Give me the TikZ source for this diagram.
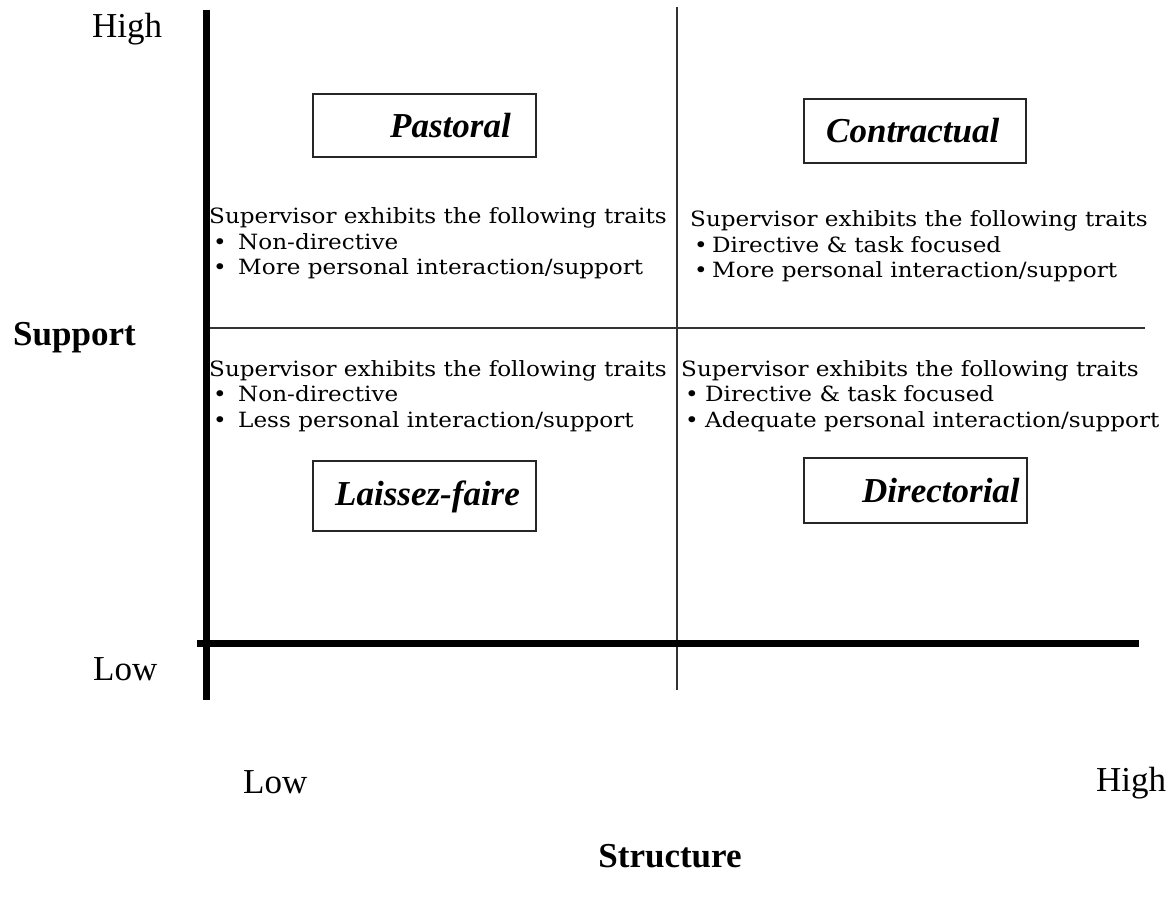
\documentclass[tikz,border=0pt]{standalone}
\usepackage{fontspec}
\setmainfont{Liberation Serif}
\newfontfamily\traitfont[FakeStretch=1.1]{DejaVu Serif}
% bullet item with a fixed indent before the text
\newcommand{\traititem}[2]{\makebox[#1][l]{\hspace{4pt}\textbullet}#2}
\begin{document}
\begin{tikzpicture}[x=1pt,y=-1pt,
  axis/.style={line width=7pt, black},
  divider/.style={line width=1.8pt, black!80},
  stylebox/.style={draw=black!85, line width=2.4pt, inner sep=0pt},
  axislabel/.style={font=\fontsize{35}{40}\selectfont, inner sep=0pt, anchor=base west},
  axistitle/.style={font=\fontsize{35}{40}\selectfont\bfseries, inner sep=0pt, anchor=base west},
  stylename/.style={font=\fontsize{35}{40}\selectfont\bfseries\itshape, inner sep=0pt, anchor=base west},
  traits/.style={font=\traitfont\fontsize{21}{25.5}\selectfont, inner sep=0pt, anchor=base west},
]
\useasboundingbox[fill=white] (0,0) rectangle (1169,901);

% axes and quadrant dividers
\coordinate (ytop) at (206,10);
\coordinate (ybot) at (206,700);
\coordinate (xleft) at (197,643);
\coordinate (xright) at (1139,643);
\coordinate (midtop) at (677,7);
\coordinate (midbot) at (677,690);
\coordinate (hleft) at (206,328);
\coordinate (hright) at (1145,328);
\draw[divider] (midtop) -- (midbot);
\draw[divider] (hleft) -- (hright);
\draw[axis] (ytop) -- (ybot);
\draw[axis] (xleft) -- (xright);

% axis labels
\node[axislabel] (yhigh) at (92,38) {High};
\node[axislabel] (ylow) at (93,680) {Low};
\node[axistitle] (ytitle) at (13,345) {Support};
\node[axislabel] (xlow) at (243,793) {Low};
\node[axislabel] (xhigh) at (1096,791) {High};
\node[axistitle, anchor=base] (xtitle) at (670,867) {Structure};

% supervision style boxes
\node[stylebox, minimum width=223pt, minimum height=63pt] (pastoral) at (424.5,125.5) {};
\node[stylebox, minimum width=222pt, minimum height=64pt] (contractual) at (915,131) {};
\node[stylebox, minimum width=223pt, minimum height=70pt] (laissez) at (424.5,496) {};
\node[stylebox, minimum width=223pt, minimum height=65pt] (directorial) at (915.5,490.5) {};
\node[stylename] (pastoraltxt) at (390,138) {Pastoral};
\node[stylename] (contractualtxt) at (826,143) {Contractual};
\node[stylename] (laisseztxt) at (335,505) {Laissez-faire};
\node[stylename] (directorialtxt) at (862,502) {Directorial};

% trait lists
\node[traits] (tltraits) at (209,224) {\begin{tabular}[t]{@{}l@{}}
Supervisor exhibits the following traits\\
\traititem{29pt}{Non-directive}\\
\traititem{29pt}{More personal interaction/support}
\end{tabular}};
\node[traits] (trtraits) at (690,227) {\begin{tabular}[t]{@{}l@{}}
Supervisor exhibits the following traits\\
\traititem{22pt}{Directive \& task focused}\\
\traititem{22pt}{More personal interaction/support}
\end{tabular}};
\node[traits] (bltraits) at (209,376) {\begin{tabular}[t]{@{}l@{}}
Supervisor exhibits the following traits\\
\traititem{29pt}{Non-directive}\\
\traititem{29pt}{Less personal interaction/support}
\end{tabular}};
\node[traits] (brtraits) at (681,376) {\begin{tabular}[t]{@{}l@{}}
Supervisor exhibits the following traits\\
\traititem{24pt}{Directive \& task focused}\\
\traititem{24pt}{Adequate personal interaction/support}
\end{tabular}};
\end{tikzpicture}
\end{document}
